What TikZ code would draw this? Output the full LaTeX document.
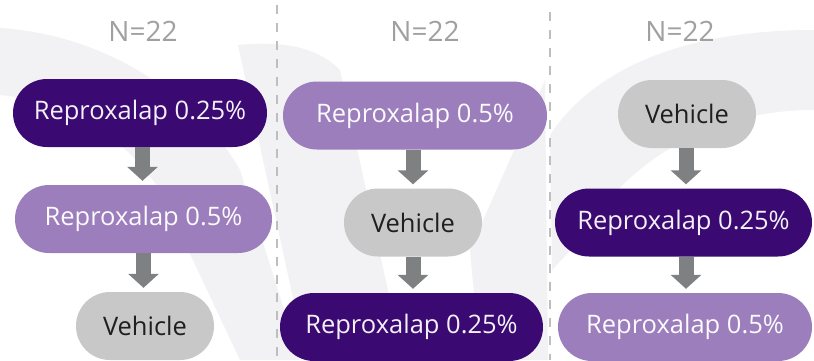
\documentclass[tikz,border=0pt]{standalone}
\usepackage{fontspec}
\setmainfont{Open Sans}
\usetikzlibrary{arrows.meta}
\definecolor{darkpur}{HTML}{3A0A72}
\definecolor{lightpur}{HTML}{9B7EBB}
\definecolor{vehgray}{HTML}{C8C8C8}
\definecolor{arrgray}{HTML}{7F8081}
\definecolor{ngray}{HTML}{A0A0A0}
\definecolor{dashgray}{HTML}{BEBEBE}
\definecolor{wmark}{HTML}{F2F2F4}
\tikzset{
  pill/.style={rounded corners=34pt, minimum height=68pt, inner sep=0pt,
    font=\fontsize{25.5}{30}\selectfont},
  darkbox/.style={pill, fill=darkpur, text=white!94!darkpur},
  lightbox/.style={pill, fill=lightpur, text=white!96!lightpur},
  vehbox/.style={pill, fill=vehgray, text=black!88, minimum width=138pt},
  ntext/.style={text=ngray, font=\fontsize{28}{32}\selectfont},
  flow/.style={draw=arrgray, line width=15pt, shorten >=4pt,
    -{Triangle[width=30pt,length=14pt]}},
  sep/.style={draw=dashgray, line width=2pt, dash pattern=on 9pt off 9pt},
  wm/.style={fill=wmark, draw=none}
}
\begin{document}
\begin{tikzpicture}[x=1pt,y=-1pt]
\useasboundingbox (0,0) rectangle (814,360);
\fill[white] (0,0) rectangle (814,360);
% faint watermark shapes
\path[wm] (0,28) .. controls (110,35) and (200,100) .. (240,170) -- (300,360) -- (240,360)
  -- (160,190) .. controls (120,130) and (60,100) .. (0,95) -- cycle;
\path[wm] (238,45) .. controls (290,40) and (320,50) .. (340,70) -- (390,300) -- (300,330) -- cycle;
\path[wm] (545,80) -- (470,250) -- (480,360) -- (548,360) -- cycle;
\path[wm] (550,135) .. controls (600,60) and (700,30) .. (814,30) -- (814,110)
  .. controls (700,110) and (620,170) .. (580,240) -- (552,270) -- cycle;
% separators
\coordinate (s1t) at (277,5);
\coordinate (s1b) at (277,360);
\coordinate (s2t) at (550,12);
\coordinate (s2b) at (550,360);
\draw[sep] (s1t) -- (s1b);
\draw[sep] (s2t) -- (s2b);
% headers
\node[ntext] (n1) at (143,31) {N=22};
\node[ntext] (n2) at (425,31) {N=22};
\node[ntext] (n3) at (680,31) {N=22};
% column 1
\node[darkbox, minimum width=254pt] (a1) at (140,113) {Reproxalap 0.25\%};
\node[lightbox, minimum width=257pt] (a2) at (143.5,219) {Reproxalap 0.5\%};
\node[vehbox] (a3) at (145,326) {Vehicle};
% column 2
\node[lightbox, minimum width=264pt] (b1) at (415,115.5) {Reproxalap 0.5\%};
\node[vehbox] (b2) at (413,222.5) {Vehicle};
\node[darkbox, minimum width=263pt] (b3) at (411.5,327) {Reproxalap 0.25\%};
% column 3
\node[vehbox] (c1) at (687,114) {Vehicle};
\node[darkbox, minimum width=257pt] (c2) at (683.5,222.5) {Reproxalap 0.25\%};
\node[lightbox, minimum width=254pt] (c3) at (685,327) {Reproxalap 0.5\%};
% arrows
\draw[flow] (142.5,0 |- a1.south) -- (142.5,0 |- a2.north);
\draw[flow] (143.5,0 |- a2.south) -- (143.5,0 |- a3.north);
\draw[flow] (413,0 |- b1.south) -- (413,0 |- b2.north);
\draw[flow] (413,0 |- b2.south) -- (413,0 |- b3.north);
\draw[flow] (686,0 |- c1.south) -- (686,0 |- c2.north);
\draw[flow] (686,0 |- c2.south) -- (686,0 |- c3.north);
\end{tikzpicture}
\end{document}
